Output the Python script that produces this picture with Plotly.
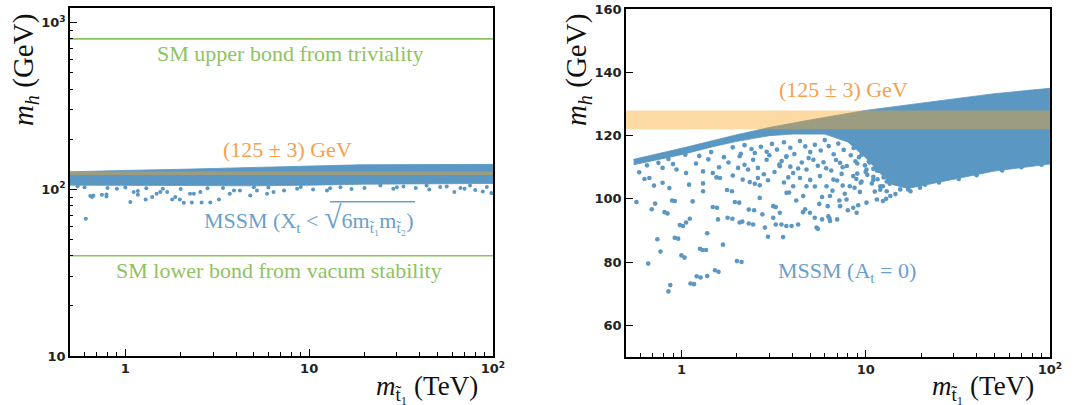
import plotly.graph_objects as go

# ---------------- data ----------------
# x axis: stop mass (TeV); y axis: Higgs mass (GeV)
x_band = [0.5, 100]
higgs_band = [122, 128]          # (125 +- 3) GeV
sm_upper = 800                  # triviality bound
sm_lower = 40                   # vacuum stability bound

# left panel: dense MSSM region edges
l_up_x = [0.5, 0.7, 1, 2, 3.3, 5, 10, 19, 50, 100]
l_up_y = [127.5, 129, 130, 132, 134, 136, 138.5, 140.5, 141, 141.3]
l_lo_x = [0.5, 1, 2, 5, 10, 20, 50, 100]
l_lo_y = [106, 106, 105.5, 105, 106, 107.5, 108.5, 108.5]

# left panel: scattered MSSM points
l_pts_x = [0.61, 0.645, 0.67, 0.66, 0.746, 0.79, 0.79, 1.065, 1.11, 1.17, 1.17, 1.29, 1.40,
           1.48, 1.55, 1.69, 1.8, 1.87, 1.98, 2.08, 2.3, 2.25, 2.36, 2.6, 2.56, 2.9, 3.23,
           3.7, 3.9, 4.2, 4.78, 5.0, 5.2, 5.9, 6.4, 7.3, 8.6, 10.5, 12.5, 14.8, 24.4, 28.7,
           32.6, 43.5, 51.6, 56, 66.5, 75, 92.6, 61.6, 98, 88, 80, 45, 38, 20, 17, 1.3, 1.6,
           2.0, 2.8, 3.4, 1.0, 0.8, 0.6, 0.55, 0.9, 6.0, 9.0, 13.0, 30.0, 70.0]
l_pts_y = [66.7, 91.2, 92, 90, 92.9, 93.3, 90.5, 84, 96.4, 97.7, 92.9, 87, 90,
           94.2, 96.4, 96.4, 87, 90, 87, 83, 83.5, 94, 94.2, 83.5, 96.4, 83.5, 87,
           94, 98.6, 98.6, 92, 103, 98.6, 94.2, 96.4, 98.6, 101, 100, 98.6, 103, 105.6, 101,
           104, 105.6, 103.3, 104, 102, 105.6, 103.3, 96.4, 95, 97, 99, 100, 102, 102, 100.5, 101.5, 101,
           100.5, 101.5, 102, 102.5, 102, 103, 104.5, 100.8, 102.5, 103.5, 101.5, 103, 101]

# right panel (A_t = 0): dense region edges
r_up_x = [0.55, 1, 2, 3, 5, 10, 20, 50, 100]
r_up_y = [112.5, 116, 120.3, 122.6, 125, 128, 130.3, 133.3, 135]
r_lo_x = [0.55, 1, 1.5, 2, 3, 4, 6, 8, 10, 12, 14, 17, 20, 30, 50, 100]
r_lo_y = [110.8, 114, 116.6, 118.2, 120, 120.5, 120.5, 118, 113, 108, 104.5, 103.3, 104.3, 106.3, 108.8, 111]

# right panel: scattered points
r_pts_x = [0.57, 0.66, 0.69, 0.72, 0.74, 0.77, 0.85, 0.87, 0.84, 0.92, 0.71, 0.79, 0.86, 0.96,
           1.04, 1.02, 1.06, 1.11, 1.15, 1.10, 1.17, 1.27, 1.38, 1.59, 1.30, 1.36, 1.38, 1.68,
           1.56, 1.31, 1.31, 1.88, 1.89, 2.12, 2.14, 2.06, 2.45, 2.48, 2.75, 2.84, 2.66, 2.35,
           2.5, 2.66, 1.55, 1.62, 2.15, 2.95, 1.31, 1.48, 2.03, 1.06, 0.94, 0.79, 0.59, 0.63,
           0.67, 3.15, 3.42, 3.49, 3.96, 4.3, 3.15, 3.72, 4.04, 4.58, 4.69, 4.98, 5.41, 5.5,
           6.22, 6.27, 6.4, 7.0, 7.26, 7.87, 8.56, 8.93, 10.1, 11.5, 12.4, 13.6, 8.2, 6.68,
           5.65, 4.77, 4.04, 3.42, 2.9, 2.45, 2.07, 3.72, 5.2, 7.26, 10.1, 15.4, 19.7, 23.2,
           28.7, 6.13, 4.77, 8.56, 12.4, 15.4, 17.5, 19.7, 3.25, 3.56, 3.71, 3.84, 4.2, 4.57,
           5.29, 5.8, 6.36, 5.6, 7.2, 8.0, 9.1, 2.95, 3.25, 2.32, 2.32, 2.07, 1.95, 2.0, 1.78,
           1.77, 1.58, 1.52, 1.48, 1.26, 1.21, 1.12, 0.98, 1.0, 0.89, 0.92, 0.81,
           2.5, 3.0, 3.5, 4.5, 5.5, 6.5, 7.5, 9.0, 11.0, 13.0, 9.5, 7.0, 5.0, 3.8, 3.2, 2.6,
           2.2, 1.8, 1.6, 1.2, 0.9, 1.4, 12.9, 14.5, 17.0, 21.0, 25.0, 32.0, 40.0, 55.0, 70.0, 90.0,
           2.2, 2.4, 2.7, 2.9, 3.1, 3.3, 3.6, 3.9, 4.1, 4.4, 4.7, 5.0, 5.3, 5.7, 6.0, 6.3, 6.7,
           7.1, 7.6, 8.1, 8.6, 9.2, 9.8, 10.5, 11.3, 12.2, 13.3, 14.4, 16.0, 18.0, 3.4, 3.7,
           4.3, 4.9, 5.9, 6.9, 7.9, 8.8, 9.9, 11.8, 13.8, 16.8, 2.3, 2.8, 3.6, 4.4, 5.3, 6.1,
           7.4, 8.9, 10.8, 12.0, 9.3, 7.7, 6.6, 5.8, 3.9, 2.6, 1.9, 1.7, 1.45, 1.25, 1.05, 0.85,
           0.75, 0.65, 1.9, 2.1, 16.5, 22.0, 26.0, 35.0, 45.0, 18.7,
           8.3, 9.0, 9.6, 10.4, 11.0, 11.6, 8.7, 9.4, 10.2, 11.2, 7.5, 6.4,
           9.5, 10.5, 11.5, 12.5, 13.5, 8.8, 10.0, 11.0, 12.0, 13.0]
r_pts_y = [99.0, 79.5, 96.7, 98.5, 87.2, 83.3, 70.7, 72.7, 95.4, 99.3, 104.2, 105.1, 103.4, 87.4,
           81.4, 91.4, 92.5, 93.7, 99.2, 104.5, 73.0, 75.1, 75.6, 76.9, 83.8, 83.8, 89.1, 85.5,
           97.2, 102.4, 104.9, 102.4, 93.7, 80.0, 92.8, 98.8, 91.9, 96.4, 95.1, 90.9, 100.3, 105.3,
           104.8, 104.3, 106.8, 106.6, 106.1, 105.9, 108.7, 108.2, 109.8, 108.2, 109.3, 109.8, 108.4, 106.3,
           106.6, 97.7, 95.6, 91.9, 91.4, 91.9, 94.0, 101.9, 104.0, 100.9, 96.7, 95.6, 90.9, 90.5,
           97.7, 94.5, 93.0, 93.5, 97.7, 99.8, 97.2, 95.6, 98.8, 99.8, 99.3, 100.9, 104.0, 106.1,
           107.2, 109.3, 108.2, 110.3, 112.4, 112.4, 113.5, 113.5, 112.4, 111.4, 109.3, 107.2, 105.1, 106.1,
           108.2, 104.0, 104.0, 107.2, 104.0, 103.0, 102.4, 103.5, 91.9, 87.9, 91.4, 102.0, 99.5, 95.8,
           94.0, 93.5, 93.8, 98.4, 99.5, 96.4, 98.0, 88.0, 97.4, 92.2, 96.6, 92.5, 99.0, 80.3, 94.0,
           102.8, 93.5, 77.4, 97.4, 84.2, 75.5, 73.2, 91.7, 82.1, 99.5, 87.7, 95.8,
           114.5, 113.8, 112.0, 111.5, 110.5, 109.0, 110.0, 108.0, 107.0, 105.5, 105.5, 105.8, 106.0, 106.8, 108.5, 109.8,
           110.8, 111.5, 110.0, 111.2, 111.0, 112.5, 100.0, 101.5, 103.0, 104.5, 105.2, 106.3, 107.5, 109.0, 110.0, 110.8,
           117.0, 115.8, 116.5, 114.9, 117.4, 115.6, 117.9, 116.2, 114.2, 118.3, 116.6, 114.8, 117.1, 115.3, 118.6, 116.7, 114.1,
           117.5, 115.5, 118.8, 116.1, 113.2, 117.0, 114.9, 112.6, 115.6, 111.8, 114.2, 109.8, 112.5, 110.9, 113.3,
           109.6, 112.9, 111.6, 112.3, 110.4, 111.9, 110.6, 108.8, 107.6, 106.9, 109.3, 107.8, 105.2, 106.6, 103.9, 109.7,
           107.9, 106.3, 104.9, 102.9, 102.2, 101.6, 102.6, 100.6, 110.2, 106.6, 107.4, 113.2, 114.8, 113.6, 114.0, 112.6,
           111.4, 110.6, 116.3, 114.3, 108.4, 107.2, 108.0, 108.5, 110.0, 110.8,
           113.8, 111.2, 114.6, 111.9, 109.5, 106.2, 103.5, 105.1, 107.6, 102.3, 104.2, 100.9,
           114.0, 111.5, 109.0, 106.8, 104.8, 116.5, 108.5, 106.0, 104.0, 102.4]

# tick labels
x_tickvals = [1, 10, 100]
x_ticktext = ["1", "10", "10<sup>2</sup>"]
x_minor = [0.6, 0.7, 0.8, 0.9, 2, 3, 4, 5, 6, 7, 8, 9, 20, 30, 40, 50, 60, 70, 80, 90]
l_y_tickvals = [10, 100, 1000]
l_y_ticktext = ["10", "10<sup>2</sup>", "10<sup>3</sup>"]
l_y_minor = [20, 30, 40, 50, 60, 70, 80, 90, 200, 300, 400, 500, 600, 700, 800, 900]
r_y_tickvals = [60, 80, 100, 120, 140, 160]

# ---------------- style ----------------
BLUE = "#5b97c3"
ORANGE_FILL = "rgba(250,162,35,0.41)"
GREEN = "#8cc45a"
SERIF = "Liberation Serif"
TICKFONT = dict(family="DejaVu Sans", size=13, color="#222", weight="bold")

fig = go.Figure()


def add_panel(xa, ya, up_x, up_y, lo_x, lo_y, px, py, msize):
    fig.add_trace(go.Scatter(x=up_x + lo_x[::-1], y=up_y + lo_y[::-1], fill="toself",
                             fillcolor=BLUE, line=dict(width=0.8, color=BLUE), mode="lines",
                             xaxis=xa, yaxis=ya, hoverinfo="skip", showlegend=False))
    fig.add_trace(go.Scatter(x=px, y=py, mode="markers",
                             marker=dict(size=msize, color=BLUE, line=dict(width=0)),
                             xaxis=xa, yaxis=ya, showlegend=False))
    fig.add_trace(go.Scatter(x=[x_band[0], x_band[1], x_band[1], x_band[0]],
                             y=[higgs_band[0], higgs_band[0], higgs_band[1], higgs_band[1]],
                             fill="toself", fillcolor=ORANGE_FILL, line=dict(width=0),
                             mode="lines", xaxis=xa, yaxis=ya, hoverinfo="skip", showlegend=False))


add_panel("x", "y", l_up_x, l_up_y, l_lo_x, l_lo_y, l_pts_x, l_pts_y, 4)
for level in (sm_upper, sm_lower):
    fig.add_trace(go.Scatter(x=x_band, y=[level, level], mode="lines",
                             line=dict(color=GREEN, width=1.6), xaxis="x", yaxis="y",
                             showlegend=False))
add_panel("x2", "y2", r_up_x, r_up_y, r_lo_x, r_lo_y, r_pts_x, r_pts_y, 4.6)

# invisible traces so that the overlay (minor-tick) axes are drawn
fig.add_trace(go.Scatter(x=[None], y=[None], xaxis="x3", yaxis="y3", showlegend=False))
fig.add_trace(go.Scatter(x=[None], y=[None], xaxis="x4", yaxis="y2", showlegend=False))

common_axis = dict(showline=True, linecolor="black", linewidth=1.6, mirror=True,
                   ticks="inside", ticklen=7, tickwidth=1.3, tickcolor="black",
                   showgrid=False, zeroline=False, tickfont=TICKFONT, automargin=False)
minor_axis = dict(showline=False, ticks="inside", ticklen=3.5, tickwidth=1.2, tickcolor="black",
                  showgrid=False, zeroline=False, showticklabels=False, automargin=False,
                  tickmode="array")

fig.update_layout(
    width=1075, height=405, margin=dict(l=0, r=0, t=0, b=0),
    paper_bgcolor="white", plot_bgcolor="white", showlegend=False,
    xaxis=dict(type="log", range=[-0.301, 2], domain=[0.0651, 0.4586], anchor="y",
               tickmode="array", tickvals=x_tickvals, ticktext=x_ticktext, **common_axis),
    yaxis=dict(type="log", range=[1, 3.088], domain=[0.121, 0.980], anchor="x",
               tickmode="array", tickvals=l_y_tickvals, ticktext=l_y_ticktext, **common_axis),
    xaxis2=dict(type="log", range=[-0.301, 2], domain=[0.5823, 0.9767], anchor="y2",
                tickmode="array", tickvals=x_tickvals, ticktext=x_ticktext, **common_axis),
    yaxis2=dict(range=[50, 160], domain=[0.119, 0.977], anchor="x2",
                tickmode="array", tickvals=r_y_tickvals, **common_axis),
    # minor ticks
    xaxis3=dict(type="log", range=[-0.301, 2], overlaying="x", anchor="y", side="bottom",
                tickvals=x_minor, **minor_axis),
    yaxis3=dict(type="log", range=[1, 3.088], overlaying="y", anchor="x", side="left",
                tickvals=l_y_minor, **minor_axis),
    xaxis4=dict(type="log", range=[-0.301, 2], overlaying="x2", anchor="y2", side="bottom",
                tickvals=x_minor, **minor_axis),
)

ann = []


def text(x, y, s, color, size=22, xanchor="center", yanchor="middle", angle=0):
    ann.append(dict(x=x, y=y, xref="paper", yref="paper", text=s, showarrow=False,
                    xanchor=xanchor, yanchor=yanchor, textangle=angle,
                    font=dict(family=SERIF, size=size, color=color)))


# left panel texts
text(0.2698, 0.869, "SM upper bond from triviality", "#8fc35f")
text(0.267, 0.630, "(125 ± 3) GeV", "#f7a14c")
text(0.2874, 0.462,
     "MSSM (X<sub>t</sub> &lt; <span style='font-size:32px'>√</span>6m<sub>t̃₁</sub>m<sub>t̃₂</sub>)",
     "#6a9fcc")
text(0.2595, 0.333, "SM lower bond from vacum stability", "#8fc35f")
text(0.0233, 0.827, "<i>m<sub>h</sub></i> (GeV)", "#111", size=29, angle=-90)
text(0.4465, -0.006, "<i>m</i><sub>t̃₁</sub> (TeV)", "#111", size=27, xanchor="right",
     yanchor="bottom")
# right panel texts
text(0.7842, 0.778, "(125 ± 3) GeV", "#f7a14c")
text(0.788, 0.328, "MSSM (A<sub>t</sub> = 0)", "#6a9fcc")
text(0.5377, 0.827, "<i>m<sub>h</sub></i> (GeV)", "#111", size=29, angle=-90)
text(0.9637, -0.006, "<i>m</i><sub>t̃₁</sub> (TeV)", "#111", size=27, xanchor="right",
     yanchor="bottom")

fig.update_layout(annotations=ann)
# overbar of the square root
fig.add_shape(type="line", xref="paper", yref="paper", x0=0.307, x1=0.386, y0=0.502, y1=0.502,
              line=dict(color="#6a9fcc", width=1.6))

# remove the default page margin so the 1075x405 figure fills the window exactly
fig.write_html("out.html", config={"displayModeBar": False},
               post_script="document.body.style.margin='0px';")
